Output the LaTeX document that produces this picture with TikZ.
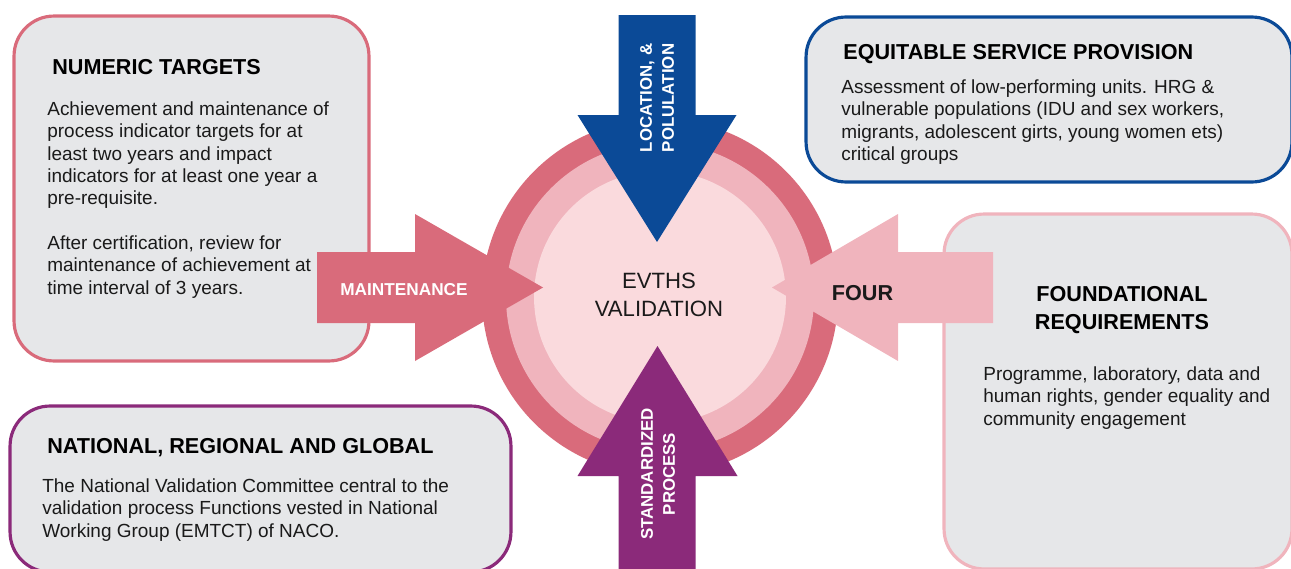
\documentclass[tikz,border=0pt]{standalone}
\usepackage{fontspec}
\setmainfont{Liberation Sans}
\definecolor{dpink}{HTML}{D96B7B}
\definecolor{lpink}{HTML}{F0B4BD}
\definecolor{ppink}{HTML}{FADADD}
\definecolor{nblue}{HTML}{0B4A97}
\definecolor{npurple}{HTML}{8B2A7A}
\definecolor{boxgray}{HTML}{E6E7E9}
\definecolor{inktext}{HTML}{1A1A1A}
\tikzset{
  infobox/.style={draw=#1, line width=1.8pt, fill=boxgray, rounded corners=0.8cm, inner sep=0pt},
  boxtitle/.style={anchor=base west, inner sep=0pt, font=\fontsize{12.3}{15.9}\selectfont\bfseries},
  boxbody/.style={anchor=north west, inner sep=0pt, align=left, text=inktext, font=\fontsize{10.8}{12.7}\selectfont},
  arrowlabel/.style={inner sep=0pt, align=center, font=\fontsize{9.6}{12.5}\selectfont\bfseries},
}
\begin{document}
\begin{tikzpicture}[x=0.02cm, y=-0.02cm]
  \useasboundingbox (0,0) rectangle (1291,568);
  \clip (0,0) rectangle (1291,568);

  % framed text boxes
  \node[infobox=dpink, minimum width=7.1cm, minimum height=6.9cm] (numbox) at (191.5,188.5) {};
  \node[infobox=nblue, minimum width=9.72cm, minimum height=3.3cm] (eqbox) at (1049,99.5) {};
  \node[infobox=lpink, minimum width=6.96cm, minimum height=7.1cm] (fndbox) at (1118,391.5) {};
  \node[infobox=npurple, minimum width=10.02cm, minimum height=3.32cm] (natbox) at (260.5,489) {};

  \node[boxtitle] (numtitle) at (52,74) {NUMERIC TARGETS};
  \node[boxbody] (numbody) at (47,101.5) {Achievement and maintenance of\\
    process indicator targets for at\\least two years and impact\\
    indicators for at least one year a\\pre-requisite.\\[12.7pt]
    After certification, review for\\maintenance of achievement at\\
    time interval of 3 years.};

  \node[boxtitle] (eqtitle) at (843,59) {EQUITABLE SERVICE PROVISION};
  \node[boxbody] (eqbody) at (841,79.5) {Assessment of low-performing units. HRG \&\\
    vulnerable populations (IDU and sex workers,\\
    migrants, adolescent girts, young women ets)\\critical groups};

  \node[boxtitle, anchor=base, align=center] (fndtitle) at (1122,329) {FOUNDATIONAL\\REQUIREMENTS};
  \node[boxbody] (fndbody) at (983,366.5) {Programme, laboratory, data and\\
    human rights, gender equality and\\community engagement};

  \node[boxtitle] (nattitle) at (47,453) {NATIONAL, REGIONAL AND GLOBAL};
  \node[boxbody] (natbody) at (42,478.5) {The National Validation Committee central to the\\
    validation process Functions vested in National\\Working Group (EMTCT) of NACO.};

  % hub rings
  \fill[dpink] (660,297) circle (178);
  \fill[lpink] (660,297) circle (154);
  \node[circle, fill=ppink, minimum size=5.04cm, inner sep=0pt] (hub) at (660,297) {};
  \node[align=center, inner sep=0pt, text=inktext, font=\fontsize{12.6}{15.9}\selectfont] (hubtext) at (659,295) {EVTHS\\VALIDATION};

  % block arrows
  \fill[nblue] (618.5,15) -- (695.5,15) -- (695.5,115) -- (736.5,115) -- (657,242)
    -- (577.5,115) -- (618.5,115) -- cycle;
  \fill[npurple] (618.5,570) -- (618.5,476) -- (577.5,476) -- (657.5,346)
    -- (737.5,476) -- (695.5,476) -- (695.5,570) -- cycle;
  \fill[dpink] (317,252) -- (415,252) -- (415,214) -- (543,287.5) -- (415,361)
    -- (415,323) -- (317,323) -- cycle;
  \fill[lpink] (993,252) -- (898,252) -- (898,214) -- (772,287.5) -- (898,361)
    -- (898,323) -- (993,323) -- cycle;

  \node[arrowlabel, text=white, rotate=90] (toplabel) at (657,98) {LOCATION, \&\\POLULATION};
  \node[arrowlabel, text=white, rotate=90] (botlabel) at (658,474) {STANDARDIZED\\PROCESS};
  \node[arrowlabel, text=white, font=\fontsize{9.8}{12}\selectfont\bfseries] (maintlabel) at (404,290) {MAINTENANCE};
  \node[arrowlabel, text=inktext, font=\fontsize{12.3}{14}\selectfont\bfseries] (fourlabel) at (862.5,293) {FOUR};
\end{tikzpicture}
\end{document}
